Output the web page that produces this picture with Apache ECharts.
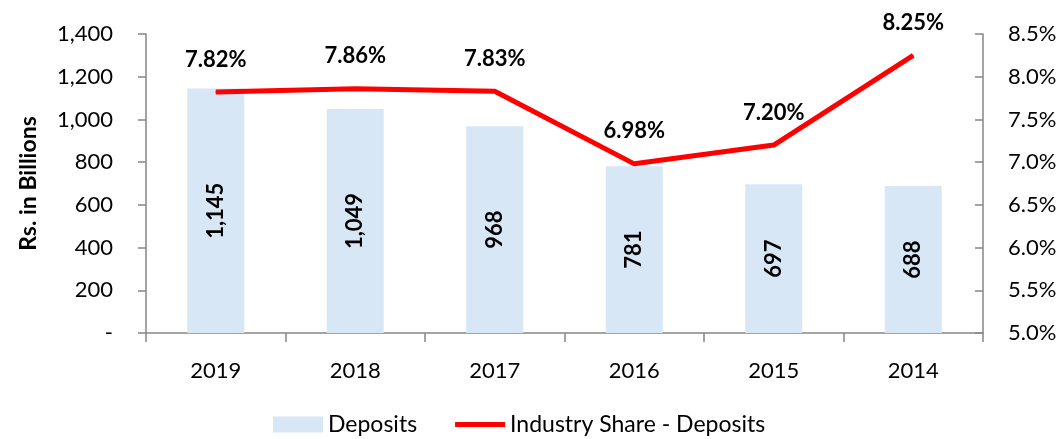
<!DOCTYPE html>
<html>
<head>
<meta charset="utf-8">
<script src="https://cdn.jsdelivr.net/npm/echarts@6/dist/echarts.min.js"></script>
<style>
  html, body { margin: 0; padding: 0; background: #fff; }
  #chart { width: 1063px; height: 439px; }
</style>
</head>
<body>
<div id="chart"></div>
<script>
const years = ['2019', '2018', '2017', '2016', '2015', '2014']
const deposits = [1145, 1049, 968, 781, 697, 688]
const industryShare = [7.82, 7.86, 7.83, 6.98, 7.20, 8.25]

const font = 'Lato, "Liberation Sans", sans-serif'
const axisGrey = '#868686'

const fmtThousands = v => v === 0 ? '-' : v.toLocaleString('en-US')

const chart = echarts.init(document.getElementById('chart'))
chart.setOption({
  backgroundColor: '#fff',
  textStyle: { fontFamily: font },
  grid: { left: 146, right: 80, top: 34, bottom: 106 },
  legend: {
    bottom: -2,
    left: 268,
    itemGap: 38,
    itemWidth: 50,
    itemHeight: 16,
    textStyle: { fontSize: 23, color: '#000', fontFamily: font },
    data: [
      { name: 'Deposits', icon: 'rect' },
      { name: 'Industry Share - Deposits', icon: 'path://M0,0 L1,0 L1,0.1 L0,0.1 Z' }
    ]
  },
  xAxis: {
    type: 'category',
    data: years,
    axisLine: { lineStyle: { color: axisGrey, width: 1.5 } },
    axisTick: { show: true, length: 9, lineStyle: { color: axisGrey, width: 1.5 } },
    axisLabel: { fontSize: 22, color: '#000', margin: 27 }
  },
  yAxis: [
    {
      type: 'value',
      min: 0,
      max: 1400,
      interval: 200,
      name: 'Rs. in Billions',
      nameLocation: 'middle',
      nameGap: 106,
      nameTextStyle: { fontSize: 23, fontWeight: 'bold', color: '#000' },
      splitLine: { show: false },
      axisLine: { show: true, lineStyle: { color: axisGrey, width: 1.5 } },
      axisTick: { show: true, length: 8, lineStyle: { color: axisGrey, width: 1.5 } },
      axisLabel: { fontSize: 22, color: '#000', margin: 33, formatter: fmtThousands }
    },
    {
      type: 'value',
      min: 5.0,
      max: 8.5,
      interval: 0.5,
      position: 'right',
      splitLine: { show: false },
      axisLine: { show: true, lineStyle: { color: axisGrey, width: 1.5 } },
      axisTick: { show: true, inside: true, length: 8, lineStyle: { color: axisGrey, width: 1.5 } },
      axisLabel: { fontSize: 22, color: '#000', margin: 25, formatter: v => v.toFixed(1) + '%' }
    }
  ],
  series: [
    {
      name: 'Deposits',
      type: 'bar',
      data: deposits,
      barWidth: 57,
      itemStyle: { color: '#d7e7f6' },
      label: {
        show: true,
        position: 'inside',
        rotate: 90,
        fontSize: 22,
        fontWeight: 'bold',
        color: '#000',
        formatter: p => p.value.toLocaleString('en-US')
      }
    },
    {
      name: 'Industry Share - Deposits',
      type: 'line',
      yAxisIndex: 1,
      data: industryShare,
      symbol: 'circle',
      symbolSize: 1,
      showSymbol: true,
      lineStyle: { color: '#ff0000', width: 5 },
      itemStyle: { color: '#ff0000' },
      label: {
        show: true,
        position: 'top',
        distance: 21,
        fontSize: 22,
        fontWeight: 'bold',
        color: '#000',
        formatter: p => p.value.toFixed(2) + '%'
      },
      z: 5
    }
  ]
})
</script>
</body>
</html>
